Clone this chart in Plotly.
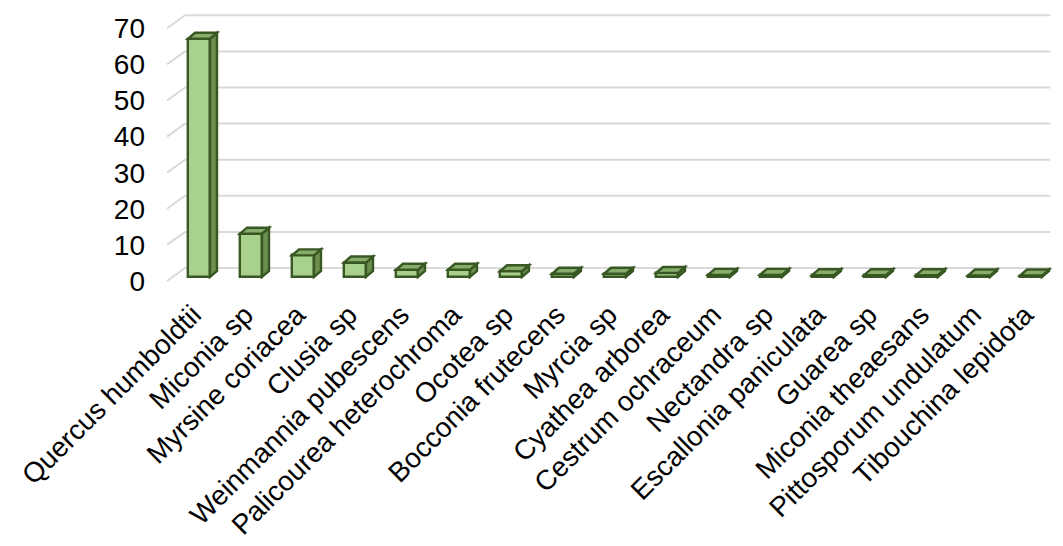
import plotly.graph_objects as go

species = ["Quercus humboldtii", "Miconia sp", "Myrsine coriacea", "Clusia sp",
           "Weinmannia pubescens", "Palicourea heterochroma", "Ocotea sp",
           "Bocconia frutecens", "Myrcia sp", "Cyathea arborea", "Cestrum ochraceum",
           "Nectandra sp", "Escallonia paniculata", "Guarea sp", "Miconia theaesans",
           "Pittosporum undulatum", "Tibouchina lepidota"]
values = [66, 12, 6, 4, 2, 2, 1.6, 0.9, 0.9, 1.1, 0.6, 0.6, 0.5, 0.5, 0.5, 0.4, 0.4]
y_ticks = [0, 10, 20, 30, 40, 50, 60, 70]

# --- geometry (pixel-based 3D look) ---
PX_X = 52.0          # pixels per category
PX_Y = 3.61          # pixels per y unit
bar_w = 22 / PX_X
bar_base = 4 / PX_Y          # bars sit a little behind the front plane
dep_x = 7 / PX_X             # bar depth
dep_y = 6 / PX_Y
wall_x = 18 / PX_X           # back wall offset
wall_y = 13 / PX_Y
wall_left = -0.615
wall_right = 16.37
label_shift = -6 / PX_X      # rotated labels end near the bar centre

FRONT = "#A9D18E"
SIDE = "#6C8F50"
TOP = "#86AE6A"
EDGE = "#385723"
GRID = "#D9D9D9"

idx = list(range(len(species)))

fig = go.Figure()
fig.add_trace(go.Bar(
    x=idx, y=values, base=[bar_base] * len(values), width=bar_w,
    marker=dict(color=FRONT, line=dict(color=EDGE, width=2.4)),
    hoverinfo="x+y", showlegend=False,
))

shapes = []
for t in y_ticks:
    shapes.append(dict(type="line", xref="x", yref="y", layer="below",
                       x0=wall_left + wall_x, y0=t + wall_y, x1=wall_right, y1=t + wall_y,
                       line=dict(color=GRID, width=2)))
    shapes.append(dict(type="line", xref="x", yref="y", layer="below",
                       x0=wall_left, y0=t, x1=wall_left + wall_x, y1=t + wall_y,
                       line=dict(color=GRID, width=2)))

for i, v in zip(idx, values):
    b = bar_base
    top = b + v
    xl = i - bar_w / 2
    xr = i + bar_w / 2
    side = (f"M {xr},{b} L {xr},{top} L {xr + dep_x},{top + dep_y} "
            f"L {xr + dep_x},{b + dep_y} Z")
    topf = (f"M {xl},{top} L {xr},{top} L {xr + dep_x},{top + dep_y} "
            f"L {xl + dep_x},{top + dep_y} Z")
    shapes.append(dict(type="path", xref="x", yref="y", layer="above", path=side,
                       fillcolor=SIDE, line=dict(color=EDGE, width=2.4)))
    shapes.append(dict(type="path", xref="x", yref="y", layer="above", path=topf,
                       fillcolor=TOP, line=dict(color=EDGE, width=2.4)))

plot_left, plot_right = 160, 1060
plot_top, plot_bottom = 8, 292
zero_px = 281
W, H = 1063, 546
x0_px = 199

fig.update_layout(
    width=W, height=H,
    margin=dict(l=plot_left, r=W - plot_right, t=plot_top, b=H - plot_bottom, pad=0),
    paper_bgcolor="white", plot_bgcolor="white",
    shapes=shapes,
    font=dict(family="Liberation Sans, Arial, sans-serif", color="#000000"),
    xaxis=dict(
        range=[(plot_left - x0_px) / PX_X, (plot_right - x0_px) / PX_X],
        tickvals=[i + label_shift for i in idx], ticktext=species, tickangle=-45,
        tickfont=dict(size=27.8), showgrid=False, zeroline=False, showline=False,
        ticks="", automargin=False, ticklabelstandoff=0,
    ),
    yaxis=dict(
        range=[-(plot_bottom - zero_px) / PX_Y, (zero_px - plot_top) / PX_Y],
        tickvals=y_ticks, tickfont=dict(size=28),
        showgrid=False, zeroline=False, showline=False, ticks="",
        ticklabelstandoff=14, automargin=False,
    ),
    bargap=0,
)

fig.write_html("out.html", config={"displayModeBar": False},
               post_script="document.body.style.margin='0';document.body.style.overflow='hidden';")
